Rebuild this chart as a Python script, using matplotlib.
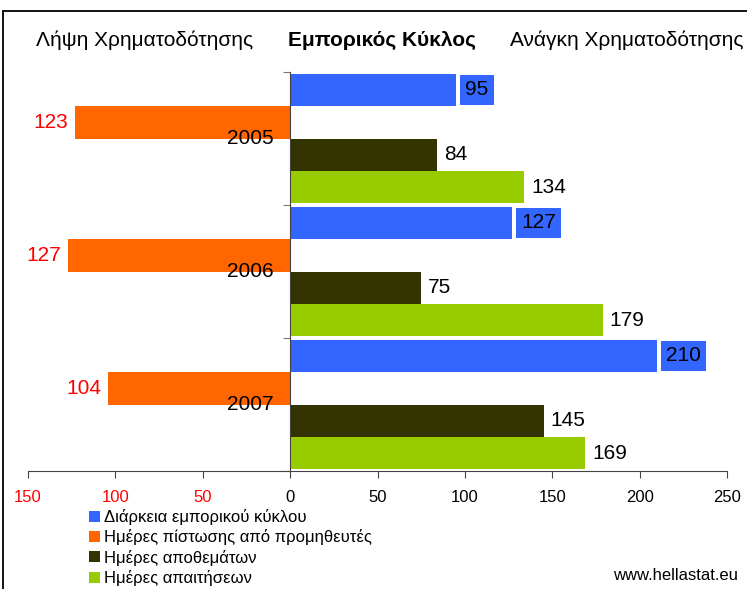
import numpy as np
import matplotlib.pyplot as plt
from matplotlib.patches import Patch, Rectangle

plt.rcParams['font.family'] = ['Liberation Sans', 'DejaVu Sans']

years = ['2005', '2006', '2007']
cycle = [95, 127, 210]          # Διάρκεια εμπορικού κύκλου
credit = [123, 127, 104]        # Ημέρες πίστωσης από προμηθευτές
inventory = [84, 75, 145]       # Ημέρες αποθεμάτων
receivables = [134, 179, 169]   # Ημέρες απαιτήσεων

series_names = ['Διάρκεια εμπορικού κύκλου', 'Ημέρες πίστωσης από προμηθευτές',
                'Ημέρες αποθεμάτων', 'Ημέρες απαιτήσεων']
colors = ['#3366FF', '#FF6600', '#333300', '#99CC00']
xticks = [-150, -100, -50, 0, 50, 100, 150, 200, 250]

fig = plt.figure(figsize=(7.47, 5.89), dpi=100)
ax = fig.add_axes([28/747, 1 - 471/589, 699/747, 399/589])

gw = 4.1  # group height in slots
base = np.arange(len(years)) * gw + 0.05
signed = [cycle, [-v for v in credit], inventory, receivables]
for j, vals in enumerate(signed):
    ax.barh(base + j + 0.5, vals, height=1.0, color=colors[j])

# value labels
fs = 15
for i in range(len(years)):
    y0 = base[i]
    ax.annotate(str(cycle[i]), (cycle[i], y0 + 0.5), xytext=(6.5, 0), textcoords='offset points',
                ha='left', va='center', fontsize=fs,
                bbox=dict(boxstyle='square,pad=0.25', fc=colors[0], ec='none'))
    ax.annotate(str(credit[i]), (-credit[i], y0 + 1.5), xytext=(-5, 0), textcoords='offset points',
                ha='right', va='center', fontsize=fs, color='#FF0000')
    ax.annotate(str(inventory[i]), (inventory[i], y0 + 2.5), xytext=(5, 0), textcoords='offset points',
                ha='left', va='center', fontsize=fs)
    ax.annotate(str(receivables[i]), (receivables[i], y0 + 3.5), xytext=(5, 0), textcoords='offset points',
                ha='left', va='center', fontsize=fs)
    ax.annotate(years[i], (0, y0 + 2.0), xytext=(-12, 0), textcoords='offset points',
                ha='right', va='center', fontsize=fs)

ax.set_xlim(-150, 250)
ax.set_ylim(len(years) * gw, 0)
ax.set_xticks(xticks)
ax.set_xticklabels([str(abs(t)) for t in xticks], fontsize=12)
for lab, t in zip(ax.get_xticklabels(), xticks):
    lab.set_color('#FF0000' if t < 0 else 'black')
ax.tick_params(axis='x', direction='out', length=5, pad=9, color='#444444')

ax.spines['left'].set_position(('data', 0))
ax.spines['top'].set_visible(False)
ax.spines['right'].set_visible(False)
ax.spines['left'].set_color('#444444')
ax.spines['bottom'].set_color('#444444')
ax.set_yticks(np.arange(len(years) + 1) * gw)
ax.set_yticklabels([])
ax.tick_params(axis='y', direction='out', length=5, color='#777777')

# header texts
fig.text(145/747, 1 - 40/589, 'Λήψη Χρηματοδότησης', ha='center', va='center', fontsize=15)
fig.text(382/747, 1 - 40/589, 'Εμπορικός Κύκλος', ha='center', va='center', fontsize=15, fontweight='bold')
fig.text(627/747, 1 - 40/589, 'Ανάγκη Χρηματοδότησης', ha='center', va='center', fontsize=15)

handles = [Patch(facecolor=c, edgecolor='none') for c in colors]
fig.legend(handles, series_names, loc='upper left', bbox_to_anchor=(89/747, 1 - 509/589),
           frameon=False, fontsize=12, handlelength=0.66, handleheight=0.66,
           handletextpad=0.25, labelspacing=0.26, borderpad=0, borderaxespad=0)

fig.text(738/747, 1 - 576/589, 'www.hellastat.eu', ha='right', va='center', fontsize=12)

fig.patches.append(Rectangle((3/747, -0.05), 1.1, 1 - 11/589 + 0.05, transform=fig.transFigure,
                             fill=False, ec='black', lw=1.3))

fig.savefig('out.png', dpi=100)
